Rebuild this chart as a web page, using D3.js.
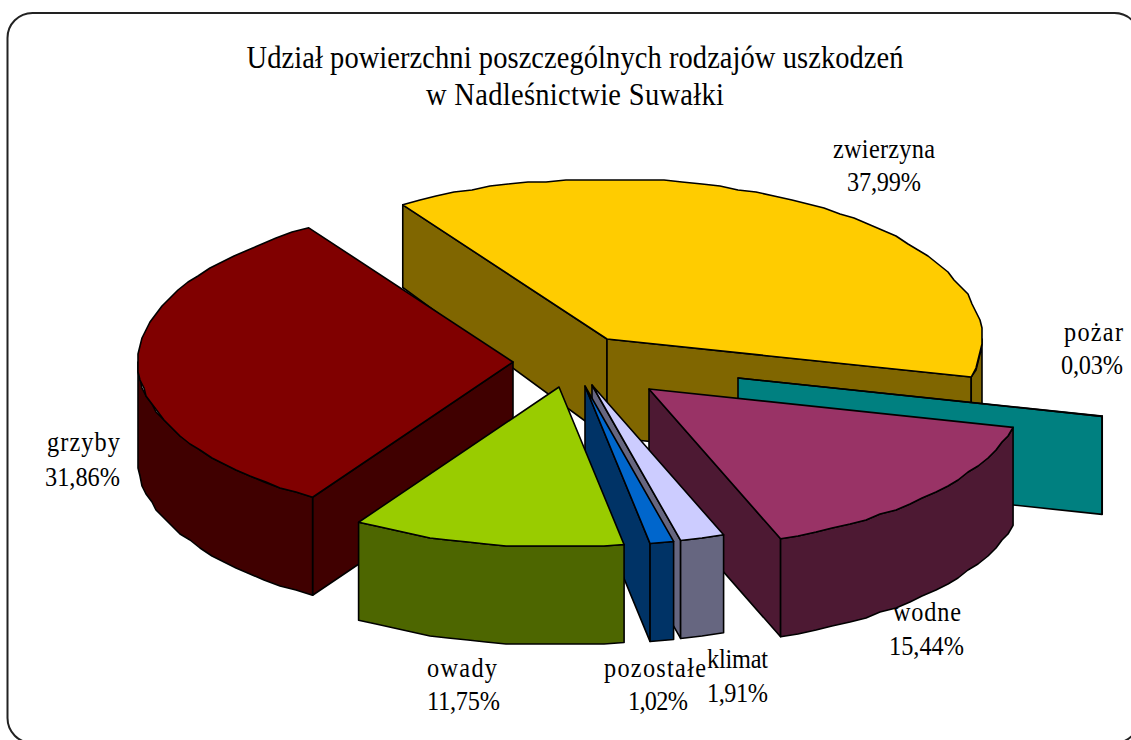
<!DOCTYPE html>
<html>
<head>
<meta charset="utf-8">
<script src="https://cdn.jsdelivr.net/npm/d3@7"></script>
<style>
  html, body { margin: 0; padding: 0; background: #fff; }
  svg { display: block; }
  text { font-family: "Liberation Serif", serif; fill: #000; }
</style>
</head>
<body>
<div id="chart"></div>
<script>
const categories = ['zwierzyna', 'pożar', 'wodne', 'klimat', 'pozostałe', 'owady', 'grzyby'];
const shares = [37.99, 0.03, 15.44, 1.91, 1.02, 11.75, 31.86];
const titleLines = ['Udział powierzchni poszczególnych rodzajów uszkodzeń', 'w Nadleśnictwie Suwałki'];

const topColors = ['#ffcc00', '#00ffff', '#993366', '#ccccff', '#0066cc', '#99cc00', '#800000'];
const wallColors = ['#806600', '#008080', '#4d1933', '#666680', '#003366', '#4d6600', '#400000'];

// each slice was dragged out by hand in the original, so apex is per slice
const apexes = [[607, 339], [738, 378], [649, 389], [592, 385], [585, 386], [559, 387], [513, 362]];
// back to front
const drawOrder = [0, 1, 2, 3, 4, 6, 5];

// label layout: [center x, baseline y, width] for name and for percent
const nameLayout = [[884, 158, 102], [1093.5, 341, 59], [927, 621, 68], [737.5, 668, 61], [655, 677, 102], [462, 677, 70], [83.5, 451, 73]];
const pctLayout = [[884, 191, 74], [1092, 374, 62], [926.5, 655, 75], [737.5, 702, 61], [658, 710, 60], [463.5, 710, 73], [82.5, 486, 75]];
const titleLayout = [[575, 68, 657], [575, 105, 298]];

const W = 1131, H = 740;
const fullDepth = 98;
const startAngle = -33 * Math.PI / 180;
const squeeze = 0.9;

const sx = d3.scaleLinear().domain([-1, 1]).range([-375, 375]);
const sy = d3.scaleLinear().domain([-1, 1]).range([-160, 160]);

const svg = d3.select('#chart').append('svg')
  .attr('width', W)
  .attr('height', H)
  .attr('viewBox', `0 0 ${W} ${H}`);

svg.append('rect')
  .attr('x', 7.5).attr('y', 13)
  .attr('width', 1132).attr('height', 730)
  .attr('rx', 25).attr('ry', 25)
  .attr('fill', '#fff')
  .attr('stroke', '#222')
  .attr('stroke-width', 2);

const pie = d3.pie().sort(null)
  .startAngle(startAngle)
  .endAngle(startAngle + 2 * Math.PI);
const arcs = pie(shares);

function rimPoint(apex, a) {
  return [apex[0] + sx(Math.sin(a)), apex[1] + sy(-Math.cos(a))];
}

// the back of the pie foreshortens a bit
function depthAt(apex, p) {
  const dy = p[1] - apex[1];
  return dy < 0 ? fullDepth + dy * 0.114 : fullDepth;
}

function rimPoints(apex, a0, a1) {
  const step = 3 * Math.PI / 180;
  const n = Math.max(1, Math.round((a1 - a0) / step));
  return d3.range(n + 1).map(i => {
    const p = rimPoint(apex, a0 + (a1 - a0) * i / n);
    // rough outline like the source's
    return i === 0 || i === n ? p : [Math.round(p[0] / 2) * 2, Math.round(p[1] / 2) * 2];
  });
}

const line = d3.line();

function drop(apex, pts) {
  return pts.map(p => [p[0], p[1] + depthAt(apex, p)]);
}

drawOrder.forEach(i => {
  const arc = arcs[i];
  const apex = apexes[i];
  const g = svg.append('g').attr('class', 'slice');
  const a0 = arc.startAngle, a1 = arc.endAngle;
  const wall = pts => g.append('path')
    .attr('d', line(pts.concat(drop(apex, pts).reverse())) + 'Z')
    .attr('fill', wallColors[i])
    .attr('stroke', '#000')
    .attr('stroke-width', 1.6)
    .attr('stroke-linejoin', 'round');

  if (Math.sin(a0) < 0) wall([apex, rimPoint(apex, a0)]);
  if (Math.sin(a1) > 0) wall([apex, rimPoint(apex, a1)]);

  // outer wall: only the part of the rim facing the viewer
  [[Math.PI / 2, 3 * Math.PI / 2], [-3 * Math.PI / 2, -Math.PI / 2]].forEach(([lo, hi]) => {
    const f0 = Math.max(a0, lo), f1 = Math.min(a1, hi);
    if (f1 > f0) wall(rimPoints(apex, f0, f1));
  });

  g.append('path')
    .attr('d', line([apex].concat(rimPoints(apex, a0, a1))) + 'Z')
    .attr('fill', topColors[i])
    .attr('stroke', '#000')
    .attr('stroke-width', 1.6)
    .attr('stroke-linejoin', 'round');
});

const fmtPct = v => v.toFixed(2).replace('.', ',') + '%';

// source text is squeezed sideways and loosely spaced
function putText(parent, str, [x, y, w], size, scaleX) {
  parent.append('text')
    .attr('transform', `translate(${x},${y}) scale(${scaleX},1)`)
    .attr('text-anchor', 'middle')
    .attr('font-size', size)
    .attr('textLength', w / scaleX)
    .attr('lengthAdjust', 'spacing')
    .text(str);
}

const labels = svg.append('g').attr('class', 'labels');
categories.forEach((name, i) => {
  putText(labels, name, nameLayout[i], 27, squeeze);
  putText(labels, fmtPct(shares[i]), pctLayout[i], 27, squeeze);
});

const title = svg.append('g').attr('class', 'title');
titleLines.forEach((t, i) => putText(title, t, titleLayout[i], 32, 0.89));
</script>
</body>
</html>
